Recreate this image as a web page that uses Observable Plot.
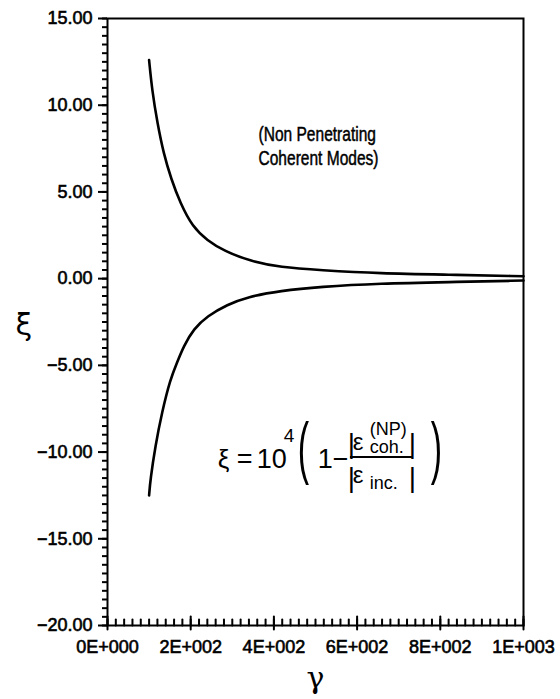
<!DOCTYPE html>
<html><head><meta charset="utf-8">
<script src="https://cdn.jsdelivr.net/npm/d3@7"></script>
<script src="https://cdn.jsdelivr.net/npm/@observablehq/plot@0.6"></script>
<style>
body{margin:0;background:#fff}
#chart svg{display:block}
</style>
</head><body><div id="chart"></div>
<script>
// Data
const gammaUpper = [100, 107, 120, 135, 153, 175, 204, 240, 280, 344, 416, 510, 656, 817, 1000];
const xiUpper    = [12.6, 10.9, 8.95, 7.2, 5.75, 4.35, 3.0, 2.2, 1.6, 1.0, 0.65, 0.49, 0.3, 0.23, 0.14];
const gammaLower = [100, 103, 115, 131, 151, 167, 183, 207, 240, 288, 336, 416, 510, 656, 817, 1000];
const xiLower    = [-12.5, -11.6, -9.65, -7.7, -5.8, -4.85, -3.9, -2.9, -2.15, -1.5, -1.05, -0.7, -0.47, -0.28, -0.2, -0.11];

const xTicks = [0, 200, 400, 600, 800, 1000];
const xTickLabels = ["0E+000", "2E+002", "4E+002", "6E+002", "8E+002", "1E+003"];
const xMinorStep = 20;
const yTicks = [15, 10, 5, 0, -5, -10, -15, -20];
const yTickLabels = ["15.00", "10.00", "5.00", "0.00", "\u22125.00", "\u221210.00", "\u221215.00", "\u221220.00"];
const yMinorStep = 0.5;

const xDomain = [0, 1000];
const yDomain = [-20, 15];

const annotationText = "(Non Penetrating\nCoherent Modes)";

const upper = gammaUpper.map((g, i) => ({g, xi: xiUpper[i]}));
const lower = gammaLower.map((g, i) => ({g, xi: xiLower[i]}));

const FONT = "'Liberation Sans', Arial, sans-serif";
const tickUp = {draw(context, l) { context.moveTo(0, 0); context.lineTo(0, -l); }};

// formula anchor (data space)
const fa = {g: 270, xi: -10.2};
const piece = (t, dx, dy, fs) => Plot.text([fa], {
  x: "g", y: "xi", text: () => t, dx, dy, fontSize: fs,
  textAnchor: "start", lineAnchor: "bottom", fill: "#000", ariaLabel: "formula"
});

const chart = Plot.plot({
  width: 560,
  height: 699,
  marginLeft: 107,
  marginRight: 37,
  marginTop: 18,
  marginBottom: 74,
  style: {fontFamily: FONT, fontSize: "18px", background: "#fff", color: "#000"},
  x: {domain: xDomain},
  y: {domain: yDomain},
  marks: [
    // minor y ticks
    Plot.axisY(d3.range(yDomain[0], yDomain[1] + 1e-9, yMinorStep), {tickSize: 5, text: null, strokeWidth: 2, label: null}),
    // major y ticks + labels
    Plot.axisY(yTicks, {tickSize: 9, tickPadding: 6, strokeWidth: 2, label: null,
      tickFormat: d => yTickLabels[yTicks.indexOf(d)], fontSize: 18}),
    // x labels
    Plot.axisX(xTicks, {tickSize: 0, tickPadding: 15, label: null,
      tickFormat: d => xTickLabels[xTicks.indexOf(d)], fontSize: 18}),
    // minor x ticks (inward)
    Plot.vector(d3.range(xDomain[0], xDomain[1] + 1e-9, xMinorStep), {
      x: d => d, y: () => yDomain[0], length: 6, anchor: "start", shape: tickUp, strokeWidth: 2, stroke: "#000"
    }),
    // major x ticks (crossing)
    Plot.vector(xTicks, {
      x: d => d, y: () => yDomain[0], length: 13, dy: 4, anchor: "start", shape: tickUp, strokeWidth: 2, stroke: "#000"
    }),
    Plot.frame({stroke: "#000", strokeWidth: 2}),
    // curves
    Plot.line(upper, {x: "g", y: "xi", curve: "basis", stroke: "#000", strokeWidth: 2.6}),
    Plot.line(lower, {x: "g", y: "xi", curve: "basis", stroke: "#000", strokeWidth: 2.6}),
    // axis titles
    Plot.text(["\u03be"], {frameAnchor: "left", dx: -92, dy: 3, text: d => d, fontSize: 30, fontFamily: "'DejaVu Sans', sans-serif"}),
    Plot.text(["\u03b3"], {frameAnchor: "bottom", dy: 62, text: d => d, fontSize: 30, fontFamily: "'DejaVu Serif', serif"}),
    // annotation
    Plot.text([{g: 363, xi: 7.7}], {x: "g", y: "xi", text: () => annotationText, textAnchor: "start",
      lineAnchor: "middle", lineHeight: 1.15, fontSize: 21, ariaLabel: "annot"}),
    // formula
    piece("\u03be", -2, 12, 26),
    piece("=", 17, 12, 27),
    piece("10", 37, 12, 27),
    piece("4", 64, -14, 19),
    piece("(", 78, 15, 68),
    piece("1\u2212", 98, 12, 27),
    piece("|", 128, -3, 28),
    piece("\u03b5", 133, -6, 24),
    piece("(NP)", 150, -21, 18),
    piece("coh.", 150, -3, 18),
    piece("|", 189, -3, 28),
    Plot.ruleY([fa], {y: d => d.xi - 0.09, x1: () => 584, x2: () => 733, stroke: "#000", strokeWidth: 2}),
    piece("|", 128, 31, 28),
    piece("\u03b5", 133, 27, 24),
    piece("inc.", 150, 33, 18),
    piece("|", 189, 31, 28),
    piece(")", 211, 15, 68)
  ]
});

const svg = d3.select(chart);
function squeeze(sel, k) {
  sel.each(function() {
    const t = this.getAttribute("transform") || "";
    this.setAttribute("transform", (t + ` scale(${k},1)`).trim());
  });
}
const parens = svg.selectAll("text").filter(function() {
  return this.textContent === "(" || this.textContent === ")";
});
squeeze(parens, 0.5);
const annot = svg.selectAll("text").filter(function() { return this.textContent.startsWith("(Non"); });
squeeze(annot, 0.74);
annot.attr("stroke", "#000").attr("stroke-width", 0.5);
svg.selectAll("[aria-label$='tick label'] text").attr("stroke", "#000").attr("stroke-width", 0.6);
svg.selectAll("[aria-label='formula'] text").filter(function() {
  return this.textContent !== "(" && this.textContent !== ")";
}).attr("stroke", "#000").attr("stroke-width", 0.4);

document.getElementById("chart").appendChild(chart);
</script>
</body></html>
